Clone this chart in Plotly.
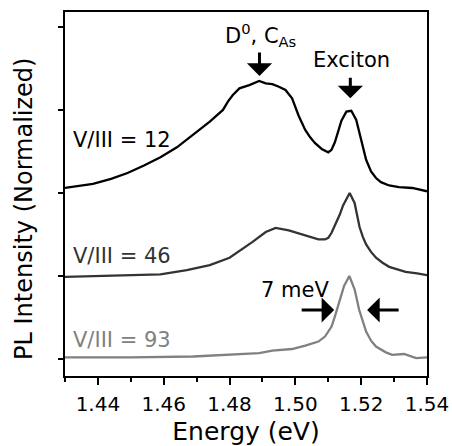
import plotly.graph_objects as go

# V/III = 12 (offset 2)
e12 = [1.430, 1.434, 1.4385, 1.444, 1.449, 1.454, 1.459, 1.464, 1.469, 1.474, 1.478, 1.4795,
       1.481, 1.483, 1.486, 1.489, 1.491, 1.493, 1.495, 1.497, 1.499, 1.500, 1.501, 1.503,
       1.5045, 1.506, 1.508, 1.510, 1.511, 1.512, 1.513, 1.514, 1.5155, 1.517, 1.5185,
       1.5195, 1.5205, 1.5215, 1.523, 1.5245, 1.526, 1.5285, 1.5315, 1.5355, 1.540]
v12 = [2.06, 2.08, 2.11, 2.17, 2.24, 2.33, 2.43, 2.55, 2.70, 2.86, 3.00, 3.10,
       3.18, 3.26, 3.30, 3.35, 3.32, 3.31, 3.28, 3.24, 3.14, 3.04, 2.93, 2.76,
       2.67, 2.60, 2.53, 2.49, 2.52, 2.61, 2.74, 2.87, 2.98, 2.99, 2.88,
       2.72, 2.55, 2.40, 2.26, 2.18, 2.13, 2.09, 2.07, 2.06, 2.02]

# V/III = 46 (offset 1)
e46 = [1.430, 1.4436, 1.459, 1.467, 1.474, 1.480, 1.483, 1.487, 1.491, 1.494, 1.498, 1.502,
       1.505, 1.507, 1.509, 1.510, 1.511, 1.512, 1.5135, 1.5145, 1.5165, 1.518, 1.519, 1.5195,
       1.5205, 1.5215, 1.523, 1.5245, 1.5265, 1.5285, 1.531, 1.5335, 1.537, 1.540]
v46 = [0.99, 1.00, 1.02, 1.07, 1.13, 1.22, 1.30, 1.41, 1.53, 1.58, 1.55, 1.50,
       1.46, 1.44, 1.44, 1.46, 1.52, 1.60, 1.74, 1.85, 2.00, 1.88, 1.70, 1.59,
       1.47, 1.38, 1.29, 1.22, 1.16, 1.11, 1.08, 1.05, 1.03, 1.01]

# V/III = 93 (offset 0)
e93 = [1.430, 1.450, 1.469, 1.483, 1.489, 1.493, 1.499, 1.503, 1.507, 1.509, 1.511, 1.512,
       1.5133, 1.5148, 1.5164, 1.518, 1.5194, 1.5205, 1.5215, 1.523, 1.5245, 1.5275, 1.5294,
       1.533, 1.5367, 1.540]
v93 = [0.02, 0.02, 0.03, 0.06, 0.07, 0.10, 0.12, 0.16, 0.21, 0.27, 0.39, 0.51,
       0.67, 0.88, 1.00, 0.84, 0.59, 0.44, 0.33, 0.22, 0.15, 0.08, 0.05,
       0.06, 0.01, 0.02]

x_ticks = [1.44, 1.46, 1.48, 1.50, 1.52, 1.54]
x_tick_labels = ["1.44", "1.46", "1.48", "1.50", "1.52", "1.54"]
labels = ["V/III = 12", "V/III = 46", "V/III = 93"]

FONT = "DejaVu Sans"

fig = go.Figure()
fig.add_trace(go.Scatter(x=e12, y=v12, mode="lines", line=dict(color="#000000", width=2.3), showlegend=False))
fig.add_trace(go.Scatter(x=e46, y=v46, mode="lines", line=dict(color="#333333", width=2.3), showlegend=False))
fig.add_trace(go.Scatter(x=e93, y=v93, mode="lines", line=dict(color="#808080", width=2.3), showlegend=False))

ann = []
# series labels
for txt, yv, col in zip(labels, [2.64, 1.24, 0.23], ["#000000", "#333333", "#808080"]):
    ann.append(dict(x=1.4318, y=yv, xref="x", yref="y", text=txt, showarrow=False,
                    xanchor="left", yanchor="middle", font=dict(family=FONT, size=21, color=col)))
ann.append(dict(x=1.5000, y=0.83, xref="x", yref="y", text="7 meV", showarrow=False,
                xanchor="center", yanchor="middle", font=dict(family=FONT, size=21, color="#000")))
ann.append(dict(x=1.5170, y=3.60, xref="x", yref="y", text="Exciton", showarrow=False,
                xanchor="center", yanchor="middle", font=dict(family=FONT, size=21, color="#000")))
ann.append(dict(x=1.4894, y=3.90, xref="x", yref="y", text="D<sup>0</sup>, C<sub>As</sub>", showarrow=False,
                xanchor="center", yanchor="middle", font=dict(family=FONT, size=21, color="#000")))
# y-axis title placed as rotated text
ann.append(dict(x=-0.115, y=0.46, xref="paper", yref="paper", text="PL Intensity (Normalized)",
                textangle=-90, showarrow=False, xanchor="center", yanchor="middle",
                font=dict(family=FONT, size=24, color="#000")))
# arrows
arrow_style = dict(xref="x", yref="y", text="", showarrow=True, arrowhead=1, arrowsize=1.4,
                   arrowwidth=3, arrowcolor="#000", standoff=0)
ann.append(dict(x=1.4891, y=3.41, ax=0, ay=-25, **arrow_style))
ann.append(dict(x=1.5167, y=3.14, ax=0, ay=-22, **arrow_style))
ann.append(dict(x=1.5118, y=0.59, ax=-34, ay=0, **arrow_style))
ann.append(dict(x=1.5218, y=0.59, ax=33, ay=0, **arrow_style))

fig.update_layout(
    width=452, height=446,
    margin=dict(l=65, r=25, t=12, b=70),
    paper_bgcolor="white", plot_bgcolor="white",
    font=dict(family=FONT, size=21, color="#000"),
    annotations=ann,
    xaxis=dict(range=[1.43, 1.54], tickvals=x_ticks, ticktext=x_tick_labels,
               ticks="outside", ticklen=7, tickwidth=1.5, tickcolor="#000",
               minor=dict(dtick=0.01, tick0=1.43, ticks="outside", ticklen=4, tickwidth=1.5, tickcolor="#000"),
               showline=True, linecolor="#000", linewidth=1.8, mirror=True,
               showgrid=False, zeroline=False, automargin=False, ticklabelstandoff=2,
               tickfont=dict(family=FONT, size=20, color="#000"),
               title=dict(text="Energy (eV)", font=dict(family=FONT, size=25, color="#000"), standoff=10)),
    yaxis=dict(range=[-0.205, 4.18], tickvals=[0, 1, 2, 3, 4], showticklabels=False,
               ticks="outside", ticklen=5, tickwidth=1.5, tickcolor="#000",
               showline=True, linecolor="#000", linewidth=1.8, mirror=True,
               showgrid=False, zeroline=False, automargin=False),
)

fig.write_html("out.html", config={"displayModeBar": False},
               post_script="document.body.style.margin='0px';document.body.style.overflow='hidden';")
